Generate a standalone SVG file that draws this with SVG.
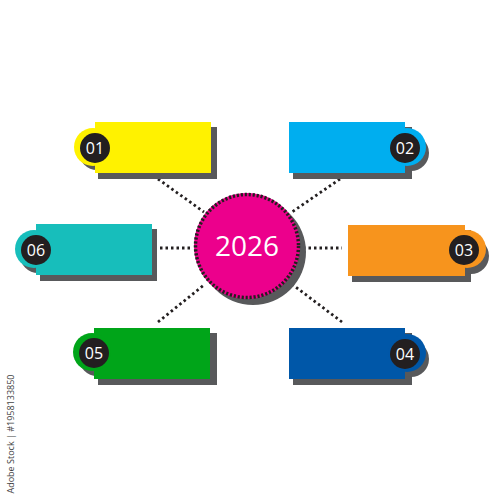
<svg xmlns="http://www.w3.org/2000/svg" width="500" height="500" viewBox="0 0 500 500">
<style>
.sh{fill:#58595B}
.num{fill:#fff;font-family:"Open Sans","DejaVu Sans",sans-serif;font-size:16px;text-anchor:middle}
.blk{fill:#231F20}
.dot{stroke:#231F20;stroke-width:2.8;stroke-dasharray:2.5 3;fill:none}
</style>
<rect width="500" height="500" fill="#fff"/>
<g id="connectors">
<line class="dot" x1="158" y1="179" x2="204" y2="212"/>
<line class="dot" x1="340" y1="179" x2="292" y2="212"/>
<line class="dot" x1="160" y1="248" x2="193" y2="248"/>
<line class="dot" x1="303" y1="248" x2="342" y2="248"/>
<line class="dot" x1="158" y1="322" x2="204" y2="285"/>
<line class="dot" x1="342" y1="322" x2="293" y2="285"/>
</g>
<g id="center">
<circle class="sh" cx="253" cy="252" r="53"/>
<circle cx="247" cy="246" r="53" fill="#EC008C"/>
<circle cx="247" cy="246" r="51.5" fill="none" stroke="#231F20" stroke-width="3.5" stroke-dasharray="2.2 1.8"/>
<text x="247" y="256" fill="#fff" font-family="'Open Sans','DejaVu Sans',sans-serif" font-size="28" text-anchor="middle">2026</text>
</g>
<g id="node01">
<rect class="sh" x="98" y="127" width="119" height="52"/>
<circle class="sh" cx="97" cy="152" r="18"/>
<rect x="95" y="122" width="116" height="51" fill="#FFF200"/>
<circle cx="93" cy="147" r="19" fill="#FFF200"/>
<circle class="blk" cx="95" cy="148" r="15"/>
<text class="num" x="95" y="154">01</text>
</g>
<g id="node02">
<rect class="sh" x="293" y="127" width="119" height="52"/>
<circle class="sh" cx="411" cy="153" r="18"/>
<rect x="289" y="122" width="116" height="51" fill="#00AEEF"/>
<circle cx="407" cy="147" r="19" fill="#00AEEF"/>
<circle class="blk" cx="405" cy="148" r="15"/>
<text class="num" x="405" y="154">02</text>
</g>
<g id="node03">
<rect class="sh" x="352" y="230" width="119" height="52"/>
<circle class="sh" cx="471" cy="256" r="18"/>
<rect x="348" y="225" width="117" height="51" fill="#F7941D"/>
<circle cx="467" cy="249" r="19" fill="#F7941D"/>
<circle class="blk" cx="464" cy="250" r="15"/>
<text class="num" x="464" y="256">03</text>
</g>
<g id="node06">
<rect class="sh" x="40" y="229" width="117" height="52"/>
<circle class="sh" cx="38" cy="255" r="18"/>
<rect x="36" y="224" width="116" height="51" fill="#17BEBB"/>
<circle cx="34" cy="249" r="19" fill="#17BEBB"/>
<circle class="blk" cx="36" cy="250" r="15"/>
<text class="num" x="36" y="256">06</text>
</g>
<g id="node05">
<rect class="sh" x="98" y="333" width="119" height="52"/>
<circle class="sh" cx="97" cy="358" r="18"/>
<rect x="94" y="328" width="116" height="51" fill="#00A519"/>
<circle cx="92" cy="352" r="19" fill="#00A519"/>
<circle class="blk" cx="94" cy="353" r="15"/>
<text class="num" x="94" y="359">05</text>
</g>
<g id="node04">
<rect class="sh" x="293" y="333" width="119" height="52"/>
<circle class="sh" cx="411" cy="359" r="18"/>
<rect x="289" y="328" width="116" height="51" fill="#0057A8"/>
<circle cx="407" cy="353" r="19" fill="#0057A8"/>
<circle class="blk" cx="405" cy="354" r="15"/>
<text class="num" x="405" y="360">04</text>
</g>
<text transform="translate(14,434) rotate(-90)" fill="#444" font-family="'Open Sans','DejaVu Sans',sans-serif" font-size="9" text-anchor="middle">Adobe Stock | #1958133850</text>
</svg>
